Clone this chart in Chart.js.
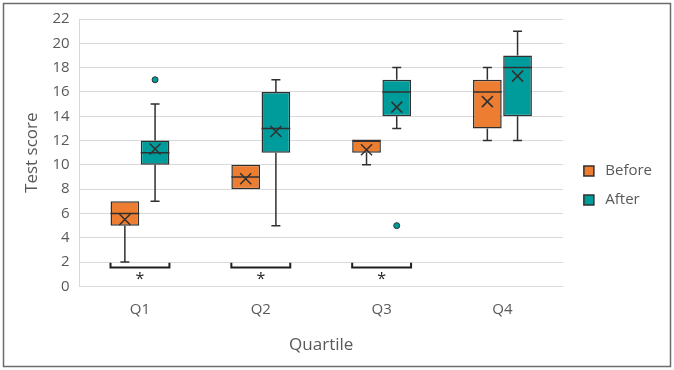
<!DOCTYPE html>
<html>
<head>
<meta charset="utf-8">
<script src="https://cdn.jsdelivr.net/npm/chart.js@4.4.0/dist/chart.umd.min.js"></script>
<style>
  html, body { margin: 0; padding: 0; background: #ffffff; }
  canvas { display: block; }
</style>
</head>
<body>
<canvas id="chartjs-0" width="674" height="370"></canvas>
<script>
// categories and five-number summaries
var categories = ["Q1", "Q2", "Q3", "Q4"];

var beforeMin    = [2, 8, 10, 12];
var beforeQ1     = [5, 8, 11, 13];
var beforeMedian = [6, 9, 12, 16];
var beforeQ3     = [7, 10, 12, 17];
var beforeMax    = [7, 10, 12, 18];
var beforeMean   = [5.5, 8.85, 11.25, 15.2];
var beforeOutliers = [[], [], [], []];

var afterMin    = [7, 5, 13, 12];
var afterQ1     = [10, 11, 14, 14];
var afterMedian = [11, 13, 16, 18];
var afterQ3     = [12, 16, 17, 19];
var afterMax    = [15, 17, 18, 21];
var afterMean   = [11.3, 12.75, 14.75, 17.3];
var afterOutliers = [[17], [], [5], []];

// significance markers under each quartile
var significant = [true, true, true, false];

var yTicks = [0, 2, 4, 6, 8, 10, 12, 14, 16, 18, 20, 22];

var stats = [
    { min: beforeMin, med: beforeMedian, max: beforeMax, mean: beforeMean, out: beforeOutliers },
    { min: afterMin, med: afterMedian, max: afterMax, mean: afterMean, out: afterOutliers }
];

var orange = "#ED7D31";
var teal = "#009C9C";
var dark = "#303030";
var textGray = "#595959";
var font = "'Open Sans'";

function pairs(lo, hi) {
    var r = [];
    for (var i = 0; i < lo.length; i++) {
        r.push([lo[i], hi[i]]);
    }
    return r;
}

var frame = {
    id: "frame",
    beforeDraw: function(chart) {
        var ctx = chart.ctx;
        ctx.save();
        ctx.fillStyle = "#ffffff";
        ctx.fillRect(0, 0, chart.width, chart.height);
        ctx.strokeStyle = "#6b6b6b";
        ctx.lineWidth = 1.5;
        ctx.strokeRect(3.5, 3.5, chart.width - 7, chart.height - 7);
        ctx.restore();
    }
};

// push the legend a bit away from the plot area
var legendShift = {
    id: "legendShift",
    afterLayout: function(chart) {
        chart.legend.left += 7;
        chart.legend.right += 7;
    }
};

var boxExtras = {
    id: "boxExtras",
    afterDatasetsDraw: function(chart) {
        var ctx = chart.ctx;
        var y = chart.scales.y;
        ctx.save();
        ctx.strokeStyle = dark;
        ctx.lineWidth = 1.5;

        chart.data.datasets.forEach(function(ds, di) {
            var meta = chart.getDatasetMeta(di);
            var s = stats[di];
            meta.data.forEach(function(bar, i) {
                var x = bar.x;
                var half = bar.width / 2;
                var top = Math.min(bar.y, bar.base);
                var bottom = Math.max(bar.y, bar.base);
                var yMin = y.getPixelForValue(s.min[i]);
                var yMax = y.getPixelForValue(s.max[i]);
                var cap = 4.5;

                ctx.beginPath();
                // whiskers
                if (yMax < top - 0.5) {
                    ctx.moveTo(x, top); ctx.lineTo(x, yMax);
                    ctx.moveTo(x - cap, yMax); ctx.lineTo(x + cap, yMax);
                }
                if (yMin > bottom + 0.5) {
                    ctx.moveTo(x, bottom); ctx.lineTo(x, yMin);
                    ctx.moveTo(x - cap, yMin); ctx.lineTo(x + cap, yMin);
                }
                // median
                var yMed = y.getPixelForValue(s.med[i]);
                ctx.moveTo(x - half, yMed); ctx.lineTo(x + half, yMed);
                ctx.stroke();

                // mean marker
                var yMean = y.getPixelForValue(s.mean[i]);
                var m = 5.5;
                ctx.beginPath();
                ctx.moveTo(x - m, yMean - m); ctx.lineTo(x + m, yMean + m);
                ctx.moveTo(x - m, yMean + m); ctx.lineTo(x + m, yMean - m);
                ctx.stroke();

                // outliers
                s.out[i].forEach(function(v) {
                    ctx.beginPath();
                    ctx.arc(x, y.getPixelForValue(v), 3, 0, Math.PI * 2);
                    ctx.fillStyle = ds.backgroundColor;
                    ctx.fill();
                    ctx.lineWidth = 1;
                    ctx.stroke();
                    ctx.lineWidth = 1.5;
                });
            });
        });

        // significance brackets
        var m0 = chart.getDatasetMeta(0);
        var m1 = chart.getDatasetMeta(1);
        ctx.lineWidth = 2;
        ctx.strokeStyle = "#1e1e1e";
        ctx.fillStyle = "#1e1e1e";
        ctx.font = "16px " + font;
        ctx.textAlign = "center";
        ctx.textBaseline = "middle";
        for (var i = 0; i < categories.length; i++) {
            if (!significant[i]) { continue; }
            var left = m0.data[i].x - m0.data[i].width / 2;
            var right = m1.data[i].x + m1.data[i].width / 2;
            var yb = y.getPixelForValue(1.55);
            var yt = y.getPixelForValue(1.95);
            ctx.beginPath();
            ctx.moveTo(left, yt); ctx.lineTo(left, yb);
            ctx.lineTo(right, yb); ctx.lineTo(right, yt);
            ctx.stroke();
            ctx.fillText("*", (left + right) / 2, y.getPixelForValue(0.55));
        }
        ctx.restore();
    }
};

var ctx0 = document.getElementById("chartjs-0");
var myChart = new Chart(ctx0, {
    type: "bar",
    data: {
        labels: categories,
        datasets: [
            {
                label: "Before",
                data: pairs(beforeQ1, beforeQ3),
                backgroundColor: orange,
                borderColor: dark,
                borderWidth: 1.5,
                borderSkipped: false,
                barPercentage: 0.95,
                categoryPercentage: 0.5
            },
            {
                label: "After",
                data: pairs(afterQ1, afterQ3),
                backgroundColor: teal,
                borderColor: dark,
                borderWidth: 1.5,
                borderSkipped: false,
                barPercentage: 0.95,
                categoryPercentage: 0.5
            }
        ]
    },
    options: {
        responsive: false,
        animation: false,
        layout: { padding: { left: 18, right: 19, top: 16, bottom: 15 } },
        plugins: {
            tooltip: { enabled: false },
            legend: {
                position: "right",
                labels: {
                    boxWidth: 10,
                    boxHeight: 10,
                    padding: 14,
                    color: textGray,
                    font: { family: font, size: 15 },
                    generateLabels: function(chart) {
                        var items = Chart.defaults.plugins.legend.labels.generateLabels(chart);
                        items.forEach(function(it) { it.text = " " + it.text; });
                        return items;
                    }
                }
            }
        },
        scales: {
            x: {
                grid: { display: false },
                border: { display: false },
                ticks: {
                    color: textGray,
                    padding: 6.6,
                    font: { family: font, size: 15 }
                },
                title: {
                    display: true,
                    text: "Quartile",
                    color: textGray,
                    padding: { top: 9, bottom: 0 },
                    font: { family: font, size: 17 }
                }
            },
            y: {
                min: 0,
                max: 22,
                afterBuildTicks: function(axis) {
                    axis.ticks = yTicks.map(function(v) { return { value: v }; });
                },
                grid: { color: "#d9d9d9", lineWidth: 1, drawTicks: false },
                border: { display: true, color: "#d9d9d9", width: 1 },
                ticks: {
                    color: textGray,
                    padding: 10,
                    font: { family: font, size: 15 }
                },
                title: {
                    display: true,
                    text: "Test score",
                    color: textGray,
                    padding: { top: 4, bottom: 0 },
                    font: { family: font, size: 17 }
                }
            }
        }
    },
    plugins: [frame, legendShift, boxExtras]
});
</script>
</body>
</html>
